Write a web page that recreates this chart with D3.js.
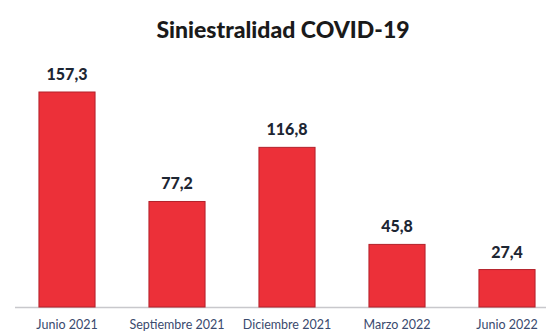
<!DOCTYPE html>
<html><head><meta charset="utf-8">
<script src="https://cdn.jsdelivr.net/npm/d3@7"></script>
<style>body{margin:0;background:#fff}svg{display:block}</style>
</head><body>
<svg id="c" width="546" height="331"></svg>
<script>
const categories = ["Junio 2021","Septiembre 2021","Diciembre 2021","Marzo 2022","Junio 2022"];
const values = [157.3, 77.2, 116.8, 45.8, 27.4];
const valueLabels = ["157,3","77,2","116,8","45,8","27,4"];
const title = "Siniestralidad COVID-19";

const svg = d3.select("#c");
const x = d3.scaleBand().domain(categories).range([12, 562]).paddingInner(0.49).paddingOuter(0.245);
const y = d3.scaleLinear().domain([0, 157.3]).range([307, 92]);

svg.append("text").attr("x", 283).attr("y", 38).attr("text-anchor", "middle")
  .attr("font-family", "Lato, 'Open Sans', sans-serif").attr("font-weight", "900")
  .attr("font-size", 23).attr("fill", "#1a1a1a").text(title);

svg.append("line").attr("x1", 15).attr("x2", 546).attr("y1", 307.5).attr("y2", 307.5)
  .attr("stroke", "#c8c8cc").attr("stroke-width", 1.5);

svg.selectAll("rect.bar").data(values).join("rect").attr("class","bar")
  .attr("x", (d,i) => x(categories[i])).attr("width", x.bandwidth())
  .attr("y", d => y(d)).attr("height", d => y(0) - y(d))
  .attr("fill", "#ec3039").attr("stroke", "#b3212a").attr("stroke-width", 1);

svg.selectAll("text.val").data(values).join("text").attr("class","val")
  .attr("x", (d,i) => x(categories[i]) + x.bandwidth()/2).attr("y", d => y(d) - 12)
  .attr("text-anchor", "middle").attr("font-family", "Lato, 'Open Sans', sans-serif")
  .attr("font-weight", "900").attr("font-size", 16).attr("fill", "#1d2633")
  .text((d,i) => valueLabels[i]);

svg.selectAll("text.cat").data(categories).join("text").attr("class","cat")
  .attr("x", d => x(d) + x.bandwidth()/2).attr("y", 329)
  .attr("text-anchor", "middle").attr("font-family", "Lato, 'Open Sans', sans-serif")
  .attr("font-size", 12.5).attr("fill", "#3a4a6e").text(d => d);
</script>
</body></html>
